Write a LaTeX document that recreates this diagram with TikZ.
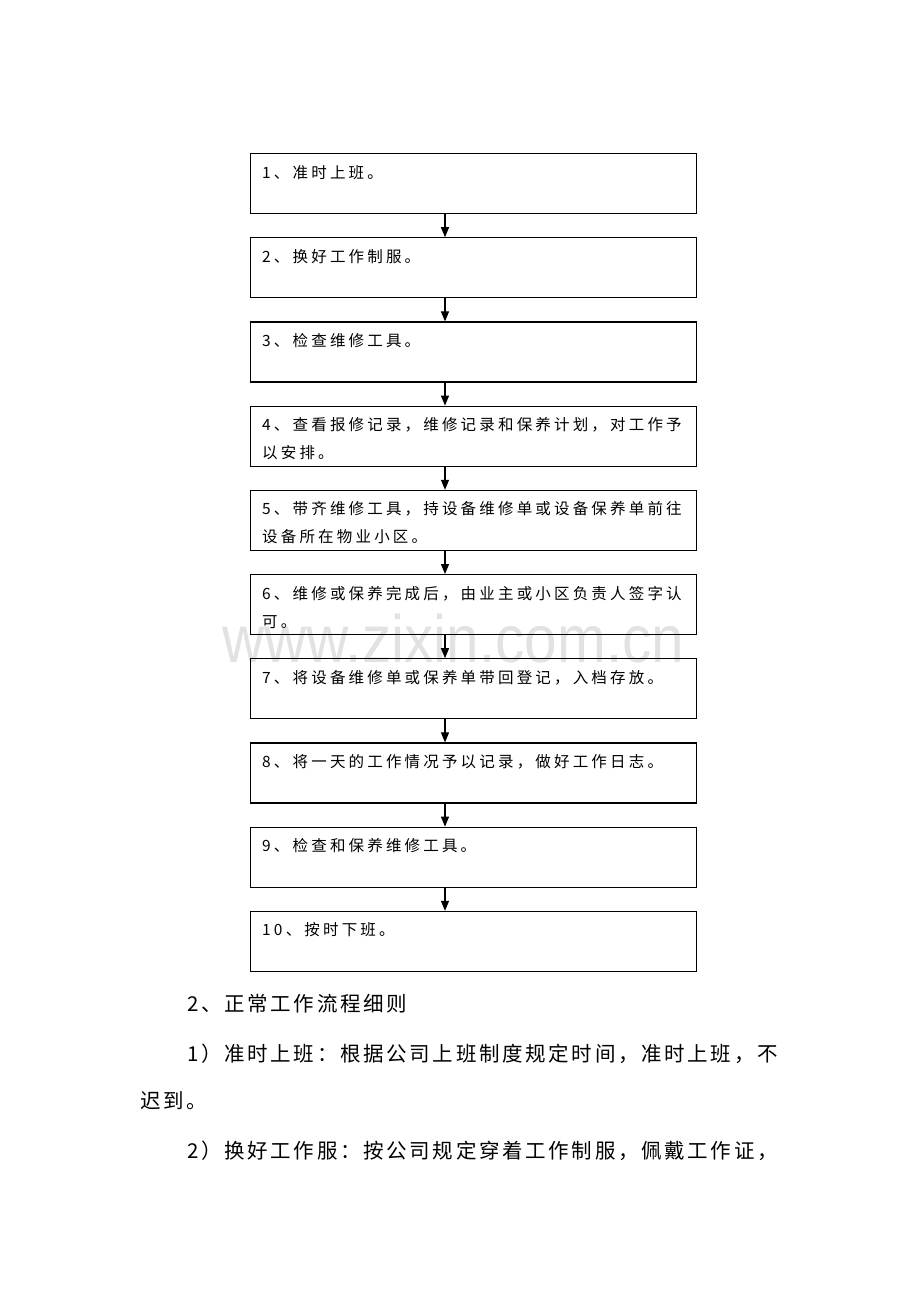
\documentclass[tikz,border=0pt]{standalone}
\usepackage{fontspec}
\usetikzlibrary{arrows.meta}
\newfontfamily\cjk[LetterSpace=20.5]{Noto Sans CJK SC}
\newfontfamily\cjkb[LetterSpace=13]{Noto Sans CJK SC}
\newfontfamily\wmfont{Liberation Sans}
\definecolor{wmgray}{RGB}{226,226,226}
\tikzset{
  stepbox/.style={draw=black, line width=1.1pt, minimum width=446pt, minimum height=60pt, inner sep=0pt, anchor=north west},
  boxtxt/.style={anchor=base west, inner sep=0pt, font=\cjk\fontsize{15.5}{18}\selectfont},
  bodytxt/.style={anchor=base west, inner sep=0pt, font=\cjkb\fontsize{20.5}{24}\selectfont},
  flow/.style={line width=1.1pt, -{Triangle[length=10pt,width=8pt]}},
}
\begin{document}
\begin{tikzpicture}[x=1pt,y=-1pt]
\useasboundingbox (0,0) rectangle (920,1302);
\node[anchor=base west, inner sep=0pt, text=wmgray, font=\wmfont\fontsize{67}{70}\selectfont, xscale=0.874] (wm) at (222,662) {www.zixin.com.cn};
% boxes
\foreach \i in {1,...,10} {
  \node[stepbox] (b\i) at (250,{153+84.2*(\i-1)}) {};
}
% arrows
\foreach \i [evaluate=\i as \j using int(\i+1)] in {1,...,9} {
  \draw[flow] (b\i.south west -| 445,0) -- (b\j.north west -| 445,0);
}
% box texts
\node[boxtxt] (t1) at ([xshift=12pt,yshift=-25pt]b1.north west) {1、准时上班。};
\node[boxtxt] (t2) at ([xshift=12pt,yshift=-25pt]b2.north west) {2、换好工作制服。};
\node[boxtxt] (t3) at ([xshift=12pt,yshift=-25pt]b3.north west) {3、检查维修工具。};
\node[boxtxt] (t4a) at ([xshift=12pt,yshift=-25pt]b4.north west) {4、查看报修记录，维修记录和保养计划，对工作予};
\node[boxtxt] (t4b) at ([xshift=12pt,yshift=-53pt]b4.north west) {以安排。};
\node[boxtxt] (t5a) at ([xshift=12pt,yshift=-25pt]b5.north west) {5、带齐维修工具，持设备维修单或设备保养单前往};
\node[boxtxt] (t5b) at ([xshift=12pt,yshift=-53pt]b5.north west) {设备所在物业小区。};
\node[boxtxt] (t6a) at ([xshift=12pt,yshift=-25pt]b6.north west) {6、维修或保养完成后，由业主或小区负责人签字认};
\node[boxtxt] (t6b) at ([xshift=12pt,yshift=-53pt]b6.north west) {可。};
\node[boxtxt] (t7) at ([xshift=12pt,yshift=-25pt]b7.north west) {7、将设备维修单或保养单带回登记，入档存放。};
\node[boxtxt] (t8) at ([xshift=12pt,yshift=-25pt]b8.north west) {8、将一天的工作情况予以记录，做好工作日志。};
\node[boxtxt] (t9) at ([xshift=12pt,yshift=-25pt]b9.north west) {9、检查和保养维修工具。};
\node[boxtxt] (t10) at ([xshift=12pt,yshift=-25pt]b10.north west) {10、按时下班。};
% body text
\node[bodytxt] (p1) at (187,1011) {2、正常工作流程细则};
\node[bodytxt] (p2) at (187,1061) {1）准时上班：根据公司上班制度规定时间，准时上班，不};
\node[bodytxt] (p3) at (140,1108) {迟到。};
\node[bodytxt] (p4) at (187,1158) {2）换好工作服：按公司规定穿着工作制服，佩戴工作证，};
\end{tikzpicture}
\end{document}
